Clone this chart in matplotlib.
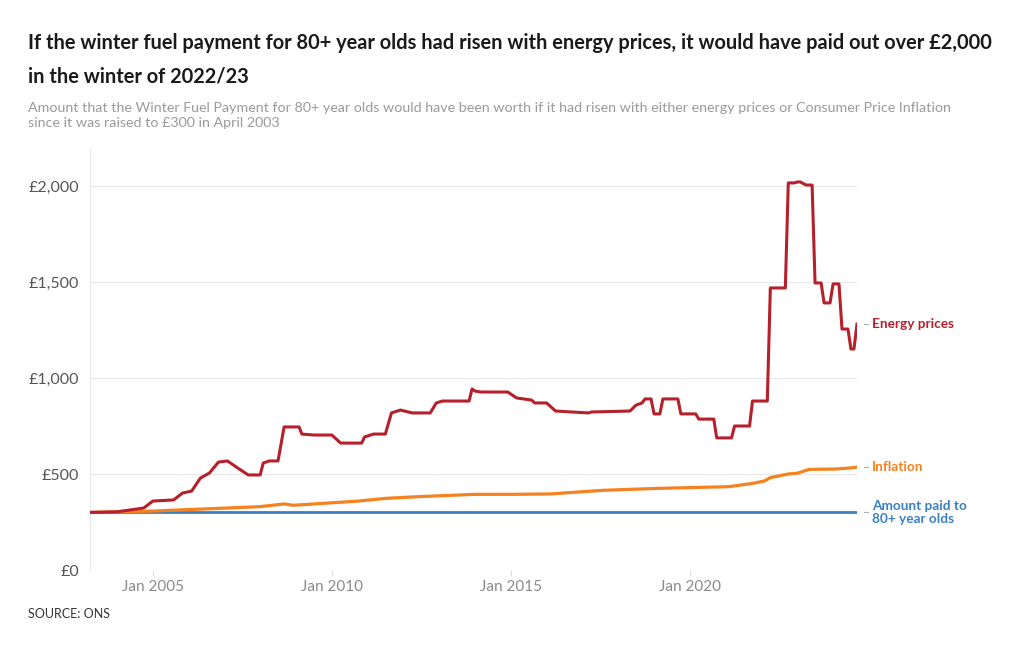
import matplotlib
matplotlib.use("Agg")
import matplotlib.pyplot as plt
import matplotlib.dates as mdates
import matplotlib.transforms as mtransforms
import pandas as pd

# ---- data ----
energy_dates = ["2003-04", "2004-01", "2004-10", "2005-01", "2005-08", "2005-11", "2006-02",
                "2006-05", "2006-08", "2006-11", "2007-02", "2007-06", "2007-09", "2008-01",
                "2008-02", "2008-04", "2008-07", "2008-09", "2009-02", "2009-03", "2009-07",
                "2010-01", "2010-04", "2010-11", "2010-12", "2011-03", "2011-07", "2011-09",
                "2011-12", "2012-04", "2012-10", "2012-12", "2013-02", "2013-11", "2013-12",
                "2014-01", "2014-03", "2014-12", "2015-03", "2015-08", "2015-09", "2016-01",
                "2016-04", "2017-03", "2017-04", "2018-05", "2018-07", "2018-09", "2018-10",
                "2018-12", "2019-01", "2019-03", "2019-04", "2019-09", "2019-10", "2020-03",
                "2020-04", "2020-09", "2020-10", "2021-03", "2021-04", "2021-09", "2021-10",
                "2022-03", "2022-04", "2022-09", "2022-10", "2022-12", "2023-01", "2023-02",
                "2023-04", "2023-06", "2023-07", "2023-09", "2023-10", "2023-12", "2024-01",
                "2024-03", "2024-04", "2024-06", "2024-07", "2024-08", "2024-09"]
energy_values = [300, 303, 323, 359, 365, 401, 411,
                 479, 505, 562, 568, 526, 495, 495,
                 557, 568, 568, 745, 745, 708, 703,
                 703, 661, 661, 693, 708, 708, 818,
                 833, 818, 818, 870, 880, 880, 943,
                 932, 927, 927, 896, 885, 870, 870,
                 828, 818, 823, 828, 859, 870, 891,
                 891, 813, 813, 891, 891, 813, 813,
                 786, 786, 688, 688, 750, 750, 880,
                 880, 1469, 1469, 2016, 2016, 2021, 2021,
                 2005, 2005, 1495, 1495, 1391, 1391, 1490,
                 1490, 1255, 1255, 1151, 1151, 1281]

inflation_dates = ["2003-04", "2005-01", "2006-11", "2008-01", "2008-09", "2008-12", "2010-10",
                   "2011-07", "2012-06", "2014-01", "2015-01", "2016-02", "2017-08", "2019-02",
                   "2021-02", "2021-10", "2022-02", "2022-04", "2022-10", "2023-01", "2023-05",
                   "2024-02", "2024-08", "2024-09"]
inflation_values = [300, 307, 321, 330, 344, 337, 359,
                    373, 382, 394, 394, 396, 415, 425,
                    434, 451, 464, 481, 500, 504, 524,
                    526, 533, 536]

paid_dates = ["2003-04", "2024-09"]
paid_values = [300, 300]

series_names = ["Energy prices", "Inflation", "Amount paid to\n80+ year olds"]
series_colors = ["#b5202b", "#f5821f", "#3a80c3"]
y_ticks = [0, 500, 1000, 1500, 2000]
y_labels = ["£0", "£500", "£1,000", "£1,500", "£2,000"]
x_tick_years = [2005, 2010, 2015, 2020]

title = ("If the winter fuel payment for 80+ year olds had risen with energy prices, it would have paid out over £2,000\n"
         "in the winter of 2022/23")
subtitle = ("Amount that the Winter Fuel Payment for 80+ year olds would have been worth if it had risen with either energy prices or Consumer Price Inflation\n"
            "since it was raised to £300 in April 2003")
source = "SOURCE: ONS"

# ---- figure ----
plt.rcParams['font.family'] = ['Lato', 'DejaVu Sans']
fig = plt.figure(figsize=(10.2, 6.5), dpi=100)
ax = fig.add_axes([90 / 1020, 1 - 570 / 650, (857 - 90) / 1020, (570 - 147.6) / 650])

ed = pd.to_datetime(energy_dates)
idt = pd.to_datetime(inflation_dates)
pdt = pd.to_datetime(paid_dates)

ax.plot(pdt, paid_values, color=series_colors[2], lw=2.0, solid_capstyle="butt", zorder=3)
ax.plot(idt, inflation_values, color=series_colors[1], lw=2.3, zorder=4)
ax.plot(ed, energy_values, color=series_colors[0], lw=2.2, zorder=5)

ax.set_xlim(pd.Timestamp("2003-04-01"), pd.Timestamp("2024-09-01"))
ax.set_ylim(0, 2200)

ax.set_yticks(y_ticks)
ax.set_yticklabels(y_labels)
ax.grid(axis="y", color="#e9e9e9", lw=0.9)
ax.set_axisbelow(True)
ax.set_xticks([pd.Timestamp(f"{y}-01-01") for y in x_tick_years])
ax.xaxis.set_major_formatter(mdates.DateFormatter("%b %Y"))

for s in ["top", "right", "bottom"]:
    ax.spines[s].set_visible(False)
ax.spines["left"].set_color("#ececec")
ax.spines["left"].set_linewidth(0.9)

ax.tick_params(axis="y", length=0, pad=8, labelsize=11.5, labelcolor="#555555")
ax.tick_params(axis="x", length=4, width=0.8, color="#dddddd", pad=3, labelsize=11, labelcolor="#8a8a8a")

# right labels
trans = mtransforms.blended_transform_factory(ax.transAxes, ax.transData)
label_ys = [energy_values[-1], inflation_values[-1], paid_values[-1]]
for name, col, yv in zip(series_names, series_colors, label_ys):
    ax.plot([1.009, 1.0143], [yv, yv], transform=trans, color="#b0b0b0", lw=0.8, clip_on=False)
    ax.text(1.0196, yv, name, transform=trans, color=col, fontsize=9.8, fontweight="bold",
            va="center", ha="left", linespacing=1.05)

fig.text(28 / 1020, 1 - 33 / 650, title, fontsize=14.4, fontweight="bold", color="#1a1a1a",
         va="top", ha="left", linespacing=1.85)
fig.text(28 / 1020, 1 - 102 / 650, subtitle, fontsize=10.3, color="#9a9a9a",
         va="top", ha="left", linespacing=1.32)
fig.text(28 / 1020, 1 - 614 / 650, source, fontsize=9, color="#333333", va="center", ha="left")

fig.savefig("out.png", dpi=100, facecolor="white")
